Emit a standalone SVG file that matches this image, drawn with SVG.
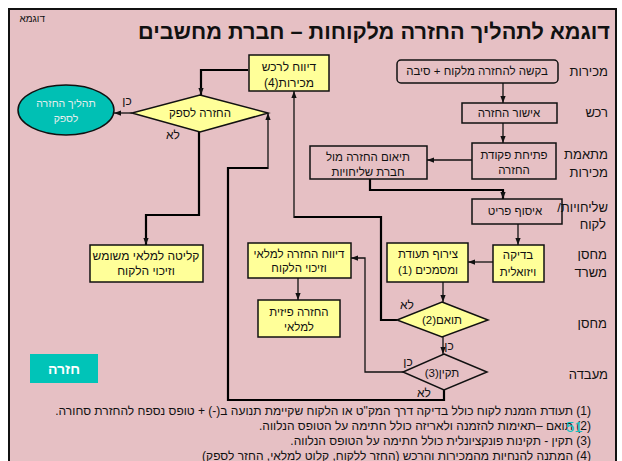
<svg xmlns="http://www.w3.org/2000/svg" width="622" height="461" viewBox="0 0 622 461">
<defs>
<style>
text{font-family:"Liberation Sans","DejaVu Sans",Arial,sans-serif;fill:#111;direction:rtl;unicode-bidi:embed}
.n{font-size:11.5px;text-anchor:middle}
.lane{font-size:13px;text-anchor:start}
.note{font-size:12px;text-anchor:start}
.y{fill:#ffff99;stroke:#111;stroke-width:1.5}
.o{fill:none;stroke:#111;stroke-width:1.5}
.c{fill:none;stroke:#111;stroke-width:1.3}
.t{fill:none;stroke:#000;stroke-width:2.2}
.lbl{font-size:12px;text-anchor:middle}
</style>
<marker id="ah" viewBox="0 0 8 8" refX="8" refY="4" markerWidth="7" markerHeight="7" markerUnits="userSpaceOnUse" orient="auto"><path d="M0,1 L8,4 L0,7 z" fill="#111"/></marker>
</defs>
<rect x="0" y="0" width="622" height="461" fill="#ffffff"/>
<rect x="9" y="9" width="607" height="460" fill="#e6c0c4" stroke="#111" stroke-width="2"/>
<text x="45" y="22" style="font-size:10px;text-anchor:start">דוגמא</text>
<text x="610" y="39" style="font-size:21.7px;font-weight:bold;text-anchor:start">דוגמא לתהליך החזרה מלקוחות – חברת מחשבים</text>

<g id="lanes">
<text class="lane" x="608" y="76">מכירות</text>
<text class="lane" x="608" y="117">רכש</text>
<text class="lane" x="608" y="159">מתאמת</text>
<text class="lane" x="608" y="177">מכירות</text>
<text class="lane" x="608" y="212">שליחויות/</text>
<text class="lane" x="606" y="229">לקוח</text>
<text class="lane" x="607" y="259">מחסן</text>
<text class="lane" x="607" y="277">משרד</text>
<text class="lane" x="607" y="328">מחסן</text>
<text class="lane" x="608" y="379">מעבדה</text>
</g>

<g id="connectors">
<path class="c" d="M503,83 V103" marker-end="url(#ah)"/>
<path class="c" d="M503,123 V143" marker-end="url(#ah)"/>
<path class="c" d="M472,160 H427" marker-end="url(#ah)"/>
<path class="t" d="M370,179 V190 H503 V199" marker-end="url(#ah)"/>
<path class="c" d="M518,224 V245" marker-end="url(#ah)"/>
<path class="c" d="M493,262 H468" marker-end="url(#ah)"/>
<path class="c" d="M443,282 V302" marker-end="url(#ah)"/>
<path class="t" d="M397,320 H381 V217 H294" />
<path class="c" d="M294,218 V91" marker-end="url(#ah)"/>
<path class="c" d="M443,337 V354" marker-end="url(#ah)"/>
<path class="c" d="M403,372 H365 V258 H351" marker-end="url(#ah)"/>
<path class="t" d="M444,390 V400 H228 V168 H268"/>
<path class="c" d="M268,169 V113" marker-end="url(#ah)"/>
<path class="t" d="M248,70 H201 V95" marker-end="url(#ah)"/>
<path class="c" d="M132,113 H114" marker-end="url(#ah)"/>
<path class="t" d="M199,132 V215 H146 V245" marker-end="url(#ah)"/>
<path class="c" d="M298,278 V300" marker-end="url(#ah)"/>
</g>

<g id="n-request">
<rect class="o" x="397" y="60" width="161" height="23" rx="4"/>
<text class="n" x="477" y="75">בקשה להחזרה מלקוח + סיבה</text>
</g>
<g id="n-approve">
<rect class="o" x="462" y="103" width="95" height="20"/>
<text class="n" x="509" y="117">אישור החזרה</text>
</g>
<g id="n-open">
<rect class="o" x="472" y="143" width="84" height="36"/>
<text class="n" x="514" y="159">פתיחת פקודת</text>
<text class="n" x="514" y="174">החזרה</text>
</g>
<g id="n-coord">
<rect class="o" x="310" y="146" width="117" height="33"/>
<text class="n" x="368" y="161">תיאום החזרה מול</text>
<text class="n" x="368" y="176">חברת שליחויות</text>
</g>
<g id="n-collect">
<rect class="o" x="472" y="199" width="90" height="25"/>
<text class="n" x="515" y="215">איסוף פריט</text>
</g>
<g id="n-visual">
<rect class="y" x="493" y="245" width="51" height="37"/>
<text class="n" x="518" y="259">בדיקה</text>
<text class="n" x="518" y="276">ויזואלית</text>
</g>
<g id="n-attach">
<rect class="y" x="387" y="243" width="81" height="39"/>
<text class="n" x="428" y="258">צירוף תעודת</text>
<text class="n" x="428" y="274">ומסמכים (1)</text>
</g>
<g id="n-match">
<polygon class="y" points="442,302 488,320 442,337 397,320"/>
<text class="n" x="442" y="324">תואם(2)</text>
<text class="lbl" x="407" y="309">לא</text>
<text class="lbl" x="449" y="350">כן</text>
</g>
<g id="n-ok">
<polygon class="o" points="444,354 487,372 444,390 403,372"/>
<text class="n" x="442" y="377">תקין(3)</text>
<text class="lbl" x="408" y="366">כן</text>
<text class="lbl" x="424" y="397">לא</text>
</g>
<g id="n-report-buy">
<rect class="y" x="249" y="55" width="80" height="36"/>
<text class="n" x="289" y="71" style="font-size:12px">דיווח לרכש</text>
<text class="n" x="289" y="87" style="font-size:12px">מכירות(4)</text>
</g>
<g id="n-supplier">
<polygon class="y" points="200,95 268,113 200,132 132,113"/>
<text class="n" x="200" y="117">החזרה לספק</text>
<text class="lbl" x="127" y="105">כן</text>
<text class="lbl" x="173" y="139">לא</text>
</g>
<g id="n-supplier-proc">
<ellipse cx="66" cy="110" rx="48" ry="25" fill="#00c0b4" stroke="#111" stroke-width="1.5"/>
<text class="n" x="66" y="107" style="font-size:10.5px;fill:#e8eeee">תהליך החזרה</text>
<text class="n" x="66" y="122" style="font-size:10.5px;fill:#e8eeee">לספק</text>
</g>
<g id="n-used">
<rect class="y" x="90" y="245" width="113" height="37"/>
<text class="n" x="146" y="260" style="font-size:12px">קליטה למלאי משומש</text>
<text class="n" x="146" y="275" style="font-size:12px">וזיכוי הלקוח</text>
</g>
<g id="n-report-stock">
<rect class="y" x="248" y="243" width="103" height="35"/>
<text class="n" x="299" y="258">דיווח החזרה למלאי</text>
<text class="n" x="299" y="272">וזיכוי הלקוח</text>
</g>
<g id="n-physical">
<rect class="y" x="258" y="300" width="82" height="37"/>
<text class="n" x="299" y="316">החזרה פיזית</text>
<text class="n" x="299" y="331">למלאי</text>
</g>

<g id="btn-return">
<rect x="30" y="354" width="68" height="29" fill="#00c4b8"/>
<text x="64" y="374" style="font-size:14px;font-weight:bold;fill:#ffffff;text-anchor:middle">חזרה</text>
</g>

<g id="notes">
<text class="note" x="591" y="415">(1)  תעודת הזמנת לקוח כולל בדיקה דרך המק"ט או הלקוח שקיימת תנועה ב(-) +  טופס נספח להחזרת סחורה.</text>
<text class="note" x="591" y="430">(2) תואם –תאימות להזמנה ולאריזה כולל חתימה על הטופס הנלווה.</text>
<text class="note" x="591" y="445">(3)  תקין - תקינות פונקציונלית כולל חתימה על הטופס הנלווה.</text>
<text class="note" x="591" y="460">(4)  המתנה להנחיות מהמכירות והרכש (החזר ללקוח, קלוט למלאי, החזר לספק)</text>
<text x="566" y="432" style="font-size:15px;fill:#14c0c0;direction:ltr;text-anchor:start">51</text>
</g>
</svg>
